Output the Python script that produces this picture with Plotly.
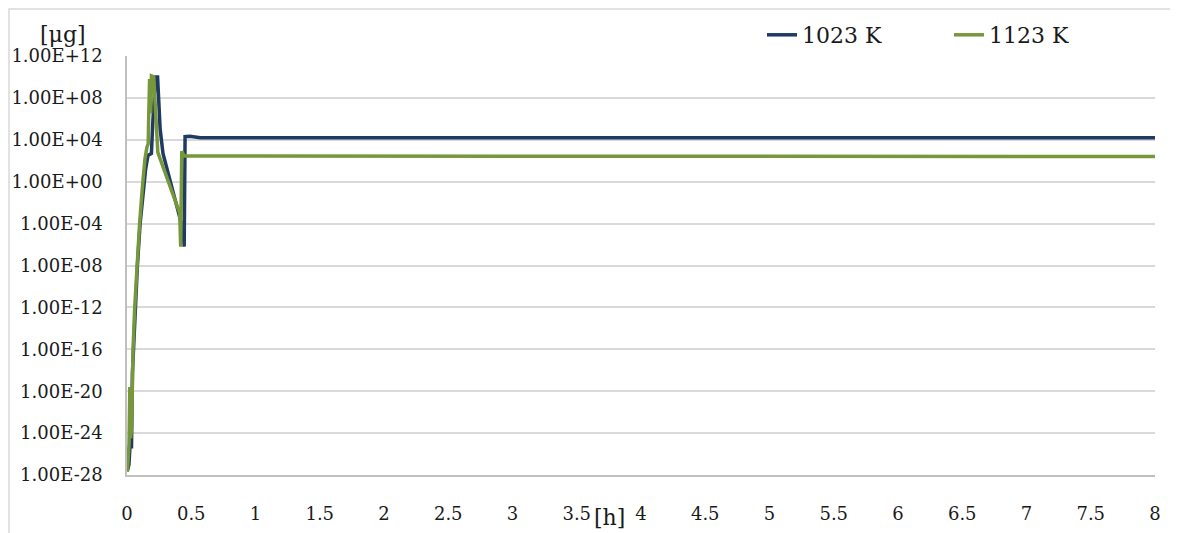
import plotly.graph_objects as go

# hours
x_1023 = [0.005, 0.015, 0.023, 0.035, 0.042, 0.05, 0.063, 0.081, 0.102, 0.125, 0.145, 0.163, 0.19,
          0.2, 0.222, 0.238, 0.258, 0.28, 0.436, 0.445, 0.452, 0.49, 0.57, 8.0]
y_1023 = [3.2e-28, 1e-27, 5e-26, 5e-26, 5e-19, 1e-16, 1e-12, 1e-8, 1e-4, 0.1, 16, 320, 500,
          3.2e5, 1e10, 1e10, 1e5, 500, 2.5e-5, 6.3e-7, 2.0e4, 2.2e4, 1.6e4, 1.6e4]

x_1123 = [0.003, 0.016, 0.022, 0.028, 0.036, 0.047, 0.06, 0.078, 0.098, 0.12, 0.14, 0.155, 0.165,
          0.168, 0.176, 0.184, 0.19, 0.208, 0.224, 0.24, 0.41, 0.418, 0.426, 0.445, 8.0]
y_1123 = [2.0e-28, 1e-25, 2.5e-20, 3.2e-25, 3.2e-24, 1e-16, 1e-12, 1e-8, 1e-4, 0.32, 160, 2000, 4000,
          5.0e5, 6.3e9, 3.2e6, 1.26e10, 1e10, 1e6, 630, 1e-3, 6.3e-7, 800, 280, 250]

series_names = ["1023 K", "1123 K"]
y_tick_vals = [1e-28, 1e-24, 1e-20, 1e-16, 1e-12, 1e-8, 1e-4, 1e0, 1e4, 1e8, 1e12]
y_tick_text = ["1.00E-28", "1.00E-24", "1.00E-20", "1.00E-16", "1.00E-12", "1.00E-08",
               "1.00E-04", "1.00E+00", "1.00E+04", "1.00E+08", "1.00E+12"]
x_tick_vals = [0, 0.5, 1, 1.5, 2, 2.5, 3, 3.5, 4, 4.5, 5, 5.5, 6, 6.5, 7, 7.5, 8]
x_tick_text = ["0", "0.5", "1", "1.5", "2", "2.5", "3", "3.5", "4", "4.5", "5", "5.5", "6",
               "6.5", "7", "7.5", "8"]

FONT = "DejaVu Serif"
BLUE = "#1f3a63"
GREEN = "#76983a"
TXT = "#1a1a1a"

# page body has an 8px margin; plot area is placed at page x 127..1155, y 56..475
W, H = 1170, 525
L, T, R, B = 127, 56, 1155, 475
PW, PH = R - L, B - T

fig = go.Figure()
fig.add_trace(go.Scatter(x=x_1023, y=y_1023, mode="lines", name=series_names[0],
                         line=dict(color=BLUE, width=3.5)))
fig.add_trace(go.Scatter(x=x_1123, y=y_1123, mode="lines", name=series_names[1],
                         line=dict(color=GREEN, width=3.5)))

def px(p):
    return (p - L) / PW

def py(p):
    return (B - p) / PH

fig.update_layout(
    width=W, height=H,
    margin=dict(l=L - 8, r=1178 - R, t=T - 8, b=533 - B),
    paper_bgcolor="white", plot_bgcolor="white",
    font=dict(family=FONT, size=16, color=TXT),
    showlegend=True,
    legend=dict(orientation="h", xref="container", yref="container",
                x=(762 - 8) / W, y=1 - (35 - 8) / H, xanchor="left", yanchor="middle",
                font=dict(family=FONT, size=22, color=TXT),
                bgcolor="rgba(0,0,0,0)", entrywidth=142, entrywidthmode="pixels"),
    xaxis=dict(range=[0, 8], tickvals=x_tick_vals, ticktext=x_tick_text, automargin=False,
               showgrid=False, zeroline=False, showline=True, linecolor="#bfbfbf", linewidth=1.5,
               ticks="", ticklabelstandoff=22, tickfont=dict(size=18)),
    yaxis=dict(type="log", range=[-28, 12], tickvals=y_tick_vals, ticktext=y_tick_text,
               automargin=False,
               showgrid=True, gridcolor="#d9d9d9", gridwidth=1.5, zeroline=False,
               showline=True, linecolor="#bfbfbf", linewidth=1.5,
               ticks="", ticklabelstandoff=19, tickfont=dict(size=18)),
    annotations=[
        dict(text="[μg]", xref="paper", yref="paper", x=px(63), y=py(34),
             xanchor="center", yanchor="middle",
             showarrow=False, font=dict(family=FONT, size=22, color=TXT)),
        dict(text="[h]", xref="paper", yref="paper", x=px(609), y=py(517),
             xanchor="center", yanchor="middle",
             showarrow=False, font=dict(family=FONT, size=22, color=TXT)),
    ],
    shapes=[
        dict(type="rect", xref="paper", yref="paper",
             x0=px(9), x1=px(1174), y0=py(545), y1=py(9),
             line=dict(color="#d9d9d9", width=1.5), layer="below"),
    ],
)

fig.write_html("out.html")
